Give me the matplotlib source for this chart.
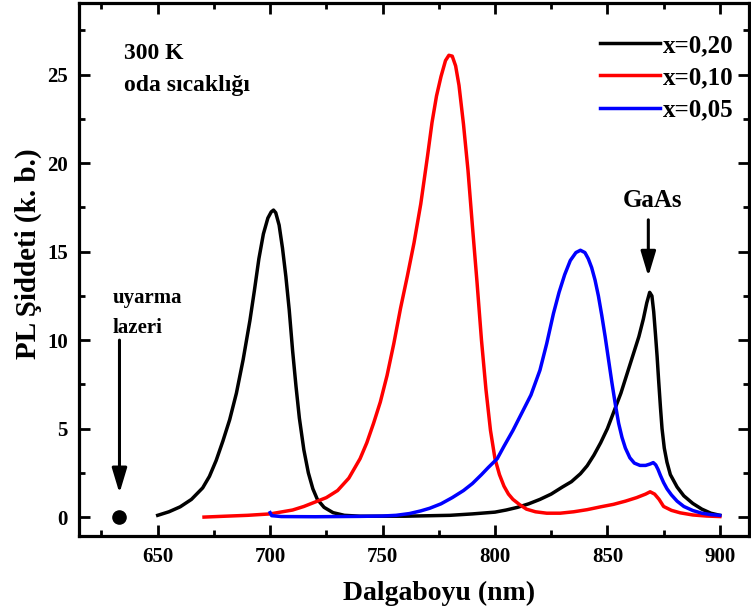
import matplotlib
matplotlib.use('Agg')
import matplotlib.pyplot as plt
from matplotlib.ticker import MultipleLocator

plt.rcParams['font.family'] = ['Liberation Serif', 'DejaVu Serif']
plt.rcParams['font.weight'] = 'bold'

# x = 0,20 (two peaks: alloy band at ~700 nm and GaAs at ~869 nm)
wl_020 = [650, 655, 660, 665, 670, 673, 676, 679, 682, 685, 688, 691, 693, 695, 697,
          699, 700.5, 701.5, 702.5, 704, 705.5, 707, 708.5, 710, 711.5, 713, 715, 717,
          719, 721, 724, 728, 733, 740, 760, 780, 790, 800, 805, 810, 815, 820, 825,
          830, 834, 838, 841, 844, 847, 850, 853, 856, 859, 862, 864, 866, 867.5,
          868.8, 869.8, 870.6, 871.4, 872.1, 872.8, 873.6, 874.3, 875.3, 876.5, 878,
          881, 884, 888, 892, 896, 900]
pl_020 = [0.1, 0.3, 0.58, 1.0, 1.65, 2.3, 3.2, 4.3, 5.5, 7.0, 8.9, 11.1, 12.8, 14.6, 16.0,
          16.9, 17.25, 17.35, 17.2, 16.5, 15.2, 13.6, 11.7, 9.4, 7.4, 5.6, 3.8, 2.5,
          1.6, 1.0, 0.55, 0.25, 0.1, 0.05, 0.05, 0.1, 0.18, 0.28, 0.4, 0.55, 0.75, 1.0, 1.3,
          1.7, 2.0, 2.45, 2.9, 3.5, 4.2, 5.0, 6.0, 7.0, 8.2, 9.4, 10.2, 11.2, 12.1,
          12.7, 12.5, 11.6, 10.3, 9.1, 7.7, 6.2, 5.0, 3.9, 3.1, 2.4,
          1.7, 1.2, 0.77, 0.45, 0.22, 0.1]

# x = 0,10
wl_010 = [670.6, 680, 690, 700, 710, 715, 720, 725, 730, 735, 740, 743, 746, 749, 752,
          755, 758, 761, 764, 767, 770, 772, 774, 776, 778, 779.5, 781, 782.5, 784, 786,
          788, 790, 792, 794, 796, 798, 800, 802, 804, 806, 808, 811, 814, 818, 823,
          829, 835, 841, 847, 852.7, 858, 863, 867, 869, 871, 873, 875, 878.5, 882.4,
          888, 894, 900]
pl_010 = [0.0, 0.05, 0.1, 0.18, 0.4, 0.6, 0.85, 1.1, 1.5, 2.2, 3.3, 4.2, 5.3, 6.5, 8.0,
          9.8, 11.8, 13.6, 15.5, 17.7, 20.4, 22.3, 23.8, 24.9, 25.8, 26.1, 26.05, 25.5,
          24.4, 22.2, 19.6, 16.4, 13.3, 10.0, 7.2, 4.9, 3.3, 2.4, 1.75, 1.3, 1.0, 0.7,
          0.45, 0.3, 0.22, 0.22, 0.3, 0.42, 0.58, 0.72, 0.9, 1.1, 1.3, 1.43, 1.3, 1.0,
          0.6, 0.38, 0.24, 0.12, 0.06, 0.03]

# x = 0,05
wl_005 = [700, 700.7, 705, 720, 740, 750, 756, 762, 767, 771, 776, 781, 786, 790, 794,
          797, 801, 804, 808, 812, 816, 820, 823, 826, 828.5, 831, 833.5, 836, 838,
          840, 841.5, 843, 844.5, 846, 847.5, 849, 850.5, 852, 853.5, 855, 856.5, 858,
          860, 862, 864.5, 867, 869, 870.4, 871.5, 872.5, 873.6, 875, 876.5, 878.5, 881,
          884, 888, 892, 896, 900]
pl_005 = [0.25, 0.08, 0.03, 0.02, 0.04, 0.06, 0.1, 0.2, 0.35, 0.5, 0.75, 1.1, 1.5, 1.9,
          2.4, 2.8, 3.3, 4.0, 4.9, 5.9, 6.9, 8.3, 9.8, 11.5, 12.7, 13.7, 14.5, 14.95,
          15.08, 14.95, 14.6, 14.1, 13.4, 12.5, 11.4, 10.2, 8.9, 7.6, 6.4, 5.3, 4.5,
          3.9, 3.35, 3.05, 2.92, 2.92, 3.0, 3.08, 2.95, 2.7, 2.35, 1.95, 1.6, 1.25, 0.9,
          0.6, 0.37, 0.22, 0.14, 0.1]

labels = ['x=0,20', 'x=0,10', 'x=0,05']
colors = ['black', '#ff0000', '#0000ff']

laser_wl = 633

fig = plt.figure(figsize=(7.51, 6.14), dpi=100)
ax = fig.add_axes([0.1052, 0.127, 0.8922, 0.868])

for wl, pl, lab, c in zip([wl_020, wl_010, wl_005], [pl_020, pl_010, pl_005], labels, colors):
    ax.plot(wl, pl, color=c, lw=2.5, label=lab, solid_joinstyle='round')

# excitation laser line
ax.plot([laser_wl], [0], 'o', color='black', ms=9.5)
ax.annotate('', xy=(laser_wl, 1.35), xytext=(laser_wl, 10.0),
            arrowprops=dict(arrowstyle='-|>,head_length=1.5,head_width=0.45',
                            color='black', lw=2.2, shrinkA=0, shrinkB=0))
ax.text(630, 12.1, 'uyarma', fontsize=15, fontweight='bold', va='baseline')
ax.text(630, 10.4, 'lazeri', fontsize=15, fontweight='bold', va='baseline')

# GaAs substrate peak
ax.annotate('', xy=(868.2, 13.6), xytext=(868.2, 16.8),
            arrowprops=dict(arrowstyle='-|>,head_length=1.5,head_width=0.45',
                            color='black', lw=2.2, shrinkA=0, shrinkB=0))
ax.text(870.2, 17.5, 'GaAs', fontsize=18, fontweight='bold', ha='center', va='baseline')

ax.text(635, 25.9, '300 K', fontsize=17, fontweight='bold', va='baseline')
ax.text(635, 24.1, 'oda sıcaklığı', fontsize=17, fontweight='bold', va='baseline')

ax.set_xlim(615, 913)
ax.set_ylim(-1.07, 29.05)
ax.xaxis.set_major_locator(MultipleLocator(50))
ax.xaxis.set_minor_locator(MultipleLocator(25))
ax.yaxis.set_major_locator(MultipleLocator(5))
ax.yaxis.set_minor_locator(MultipleLocator(2.5))
ax.tick_params(which='both', direction='in', top=True, right=True, width=2)
ax.tick_params(which='major', length=8, labelsize=15, pad=8)
ax.tick_params(which='minor', length=4.5)
for s in ax.spines.values():
    s.set_linewidth(2.3)
for t in ax.get_xticklabels() + ax.get_yticklabels():
    t.set_fontweight('bold')

ax.set_xlabel('Dalgaboyu (nm)', fontsize=20, fontweight='bold')
ax.set_ylabel('PL Şiddeti (k. b.)', fontsize=21, fontweight='bold')
ax.xaxis.set_label_coords(0.537, -0.085)
ax.yaxis.set_label_coords(-0.055, 0.53)

leg = ax.legend(loc='upper right', bbox_to_anchor=(1.003, 0.975), frameon=False,
                fontsize=18, handlelength=2.4, handletextpad=0.1, labelspacing=0.37,
                borderpad=0.2)
for t in leg.get_texts():
    t.set_fontweight('bold')

fig.savefig('out.png', dpi=100)
